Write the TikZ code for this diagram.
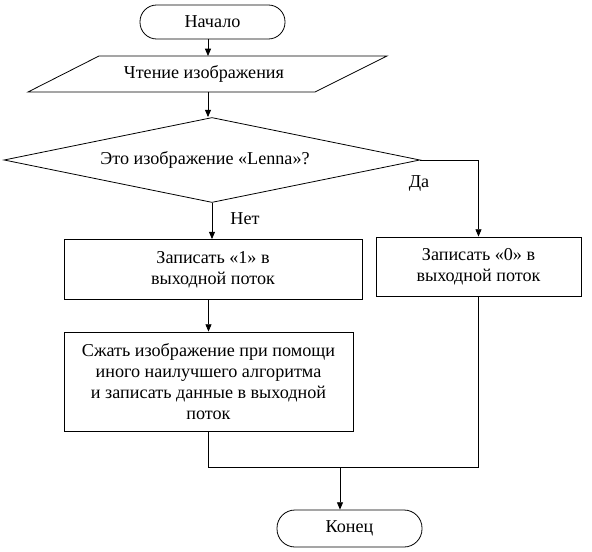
\documentclass[tikz,border=0pt]{standalone}
\usepackage{fontspec}
\setmainfont{Liberation Serif}
\usetikzlibrary{shapes.geometric,arrows.meta}
\begin{document}
\begin{tikzpicture}[x=0.75pt,y=-0.75pt,
  every node/.style={font=\fontsize{13.6}{15.75}\selectfont},
  line/.style={draw=black,line width=0.6pt},
  arr/.style={line,-{Triangle[width=4.5pt,length=5.5pt]}},
  term/.style={line,rectangle,inner sep=0pt,minimum width=108.75pt},
  proc/.style={line,rectangle,inner sep=0pt,align=center},
  lbl/.style={inner sep=0pt}
]
\useasboundingbox[fill=white] (0,0) rectangle (592,552);

% Start
\node[term,minimum height=25.5pt,rounded corners=12.5pt] (start) at (212.5,22) {Начало};

% Input (parallelogram)
\coordinate (pA) at (99,56);
\coordinate (pB) at (387,56);
\coordinate (pC) at (315,92);
\coordinate (pD) at (28,92);
\coordinate (parTop) at (208,56);
\coordinate (parBot) at (208,92);
\draw[line] (pA) -- (pB) -- (pC) -- (pD) -- cycle;
\node[inner sep=0pt] (par) at (204,74) {Чтение изображения};

% Decision
\node[line,diamond,shape aspect=5,inner sep=0pt,minimum width=312pt,minimum height=63.75pt] (dia) at (212,160) {};
\node[inner sep=0pt] (diatext) at (205,160) {Это изображение «Lenna»?};

% Process boxes
\node[proc,minimum width=223.5pt,minimum height=45pt] (box1) at (213,269.5) {Записать «1» в\\выходной поток};
\node[proc,minimum width=153.75pt,minimum height=44.25pt] (box0) at (478.5,266.5) {Записать «0» в\\выходной поток};
\node[proc,minimum width=216.75pt,minimum height=74.25pt] (box2) at (208.5,381.5) {Сжать изображение при помощи\\иного наилучшего алгоритма\\и записать данные в выходной\\поток};

% End
\node[term,minimum height=27.75pt,rounded corners=13.5pt] (end) at (349.5,528.5) {Конец};

% Labels
\node[lbl] (no) at (245,219) {Нет};
\node[lbl] (yes) at (419,183) {Да};

% Connectors
\draw[arr] (start.south -| parTop) -- (parTop);
\draw[arr] (parBot) -- (parBot |- dia.north);
\draw[arr] (dia.south) -- (dia.south |- box1.north);
\draw[arr] (dia.east) -| (box0.north);
\draw[arr] (box2.north |- box1.south) -- (box2.north);
\coordinate (mL) at (box2.south |- 0,467);
\coordinate (mR) at (box0.south |- 0,467);
\coordinate (m) at (340,467);
\draw[line] (box2.south) -- (mL) -- (mR) -- (box0.south);
\draw[arr] (m) -- (m |- end.north);
\end{tikzpicture}
\end{document}
